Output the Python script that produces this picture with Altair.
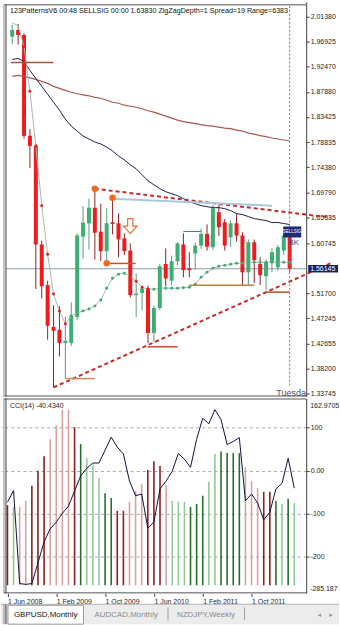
import altair as alt
import pandas as pd
import numpy as np

# ---------------- data (bar 0 = Jun 2008 ... bar 47 = May 2012, GBPUSD monthly) ----
opens = [1.978, 1.990, 1.981, 1.800, 1.782, 1.605, 1.532, 1.457, 1.452, 1.428,
         1.428, 1.475, 1.619, 1.643, 1.671, 1.628, 1.593, 1.645, 1.643, 1.616,
         1.594, 1.514, 1.518, 1.527, 1.446, 1.491, 1.570, 1.540, 1.575, 1.605,
         1.562, 1.589, 1.603, 1.624, 1.600, 1.663, 1.645, 1.618, 1.643, 1.621,
         1.555, 1.609, 1.570, 1.548, 1.573, 1.564, 1.594, 1.621]
closes = [1.990, 1.981, 1.800, 1.782, 1.605, 1.530, 1.459, 1.450, 1.428, 1.432,
          1.477, 1.621, 1.644, 1.671, 1.626, 1.593, 1.643, 1.642, 1.614, 1.593,
          1.514, 1.517, 1.526, 1.446, 1.491, 1.566, 1.544, 1.575, 1.607, 1.559,
          1.559, 1.603, 1.624, 1.601, 1.670, 1.636, 1.603, 1.643, 1.621, 1.555,
          1.609, 1.577, 1.550, 1.573, 1.591, 1.600, 1.621, 1.56145]
highs = [2.000, 2.001, 1.984, 1.812, 1.785, 1.612, 1.540, 1.496, 1.494, 1.475,
         1.501, 1.625, 1.674, 1.687, 1.705, 1.678, 1.670, 1.689, 1.661, 1.625,
         1.607, 1.553, 1.531, 1.531, 1.496, 1.570, 1.598, 1.585, 1.609, 1.625,
         1.591, 1.608, 1.634, 1.641, 1.676, 1.676, 1.651, 1.648, 1.660, 1.627,
         1.614, 1.614, 1.582, 1.578, 1.598, 1.604, 1.628, 1.630]
lows = [1.965, 1.964, 1.795, 1.742, 1.525, 1.508, 1.434, 1.348, 1.404, 1.364,
        1.423, 1.470, 1.580, 1.596, 1.578, 1.575, 1.571, 1.623, 1.582, 1.586,
        1.510, 1.475, 1.487, 1.428, 1.430, 1.487, 1.530, 1.532, 1.568, 1.546,
        1.546, 1.560, 1.597, 1.594, 1.595, 1.620, 1.594, 1.601, 1.610, 1.532,
        1.532, 1.536, 1.532, 1.523, 1.555, 1.558, 1.586, 1.556]
ma_slow = [1.9067, 1.9085, 1.9067, 1.9040, 1.9014, 1.8978, 1.8942, 1.8889, 1.8853, 1.8817,
           1.8782, 1.8755, 1.8737, 1.8719, 1.8692, 1.8675, 1.8639, 1.8603, 1.8585, 1.8550,
           1.8532, 1.8514, 1.8487, 1.8451, 1.8425, 1.8389, 1.8353, 1.8318, 1.8282, 1.8255,
           1.8237, 1.8220, 1.8202, 1.8184, 1.8175, 1.8157, 1.8139, 1.8130, 1.8103, 1.8086,
           1.8050, 1.8032, 1.8005, 1.7987, 1.7961, 1.7943, 1.7925, 1.7907]
ma_mid = [1.9371, 1.9389, 1.9335, 1.9174, 1.9032, 1.8889, 1.8746, 1.8603, 1.8461, 1.8300,
          1.8175, 1.8086, 1.7997, 1.7943, 1.7889, 1.7854, 1.7800, 1.7729, 1.7640, 1.7568,
          1.7479, 1.7408, 1.7301, 1.7193, 1.7122, 1.7051, 1.6997, 1.6961, 1.6926, 1.6872,
          1.6819, 1.6783, 1.6747, 1.6729, 1.6711, 1.6711, 1.6694, 1.6658, 1.6604, 1.6587,
          1.6551, 1.6515, 1.6497, 1.6479, 1.6444, 1.6444, 1.6426, 1.6408]
ma_fast = [2.0031, 1.9977, 1.9603, 1.8800, 1.7818, 1.6747, 1.5873, 1.5159, 1.4856, 1.4624,
           1.4766, 1.4820, 1.4856, 1.4891, 1.4945, 1.5052, 1.5266, 1.5445, 1.5516, 1.5534,
           1.5480, 1.5391, 1.5284, 1.5248, 1.5248, 1.5266, 1.5266, 1.5266, 1.5266, 1.5275,
           1.5284, 1.5337, 1.5462, 1.5552, 1.5623, 1.5658, 1.5676, 1.5694, 1.5712, 1.5712,
           1.5730, 1.5730, 1.5730, 1.5730, 1.5730, 1.5730, 1.5730, 1.5730]

cci_values = [-73, -46, -262, -264, -262, -214, -165, -135, -119, -99,
              -82, -47, -12, 6, 18, 18, 48, 78, 55, 39,
              -24, -58, -54, -133, -119, -42, -24, -1, 40, 27,
              8, 73, 122, 109, 142, 119, 61, 68, 77, -70,
              -54, -75, -114, -96, -42, -29, 29, -40.434]
hist_values = [-80, -84, -84, -70, -35, 0, 34, 73, 106, 142,
               142, 101, 62, 29, 15, -17, -52, -63, -93, -93,
               -72, -47, -31, 2, 22, 11, -33, -70, -72, -72,
               -84, -77, -58, -26, 39, 45, 41, 41, 41, 8,
               -24, -40, -49, -49, -70, -77, -65, -75]
hist_tone = ["dr", "pg", "pr", "pr", "dr", "dr", "dr", "pr", "pr", "pr",
             "pr", "dr", "dg", "pg", "pg", "pg", "dg", "dg", "dr", "dr",
             "pr", "pr", "pr", "dr", "dr", "dr", "pr", "pg", "pg", "pg",
             "dg", "dg", "dg", "pg", "pg", "dg", "dg", "dg", "dg", "pr",
             "pr", "pr", "dr", "dr", "dg", "pg", "dg", "pg"]
hist_base = -266

price_ticks = [2.01380, 1.96925, 1.92470, 1.87880, 1.83425, 1.78835, 1.74380, 1.69790,
               1.65335, 1.60745, 1.51700, 1.47245, 1.42655, 1.38200, 1.33745]
current_price = 1.56145
cci_ticks = [100, 0, -100, -200]
cci_top_label, cci_bottom_label = "162.9705", "-285.187"
date_ticks = [0, 8, 16, 24, 32, 40]
date_labels = ["1 Jun 2008", "1 Feb 2009", "1 Oct 2009", "1 Jun 2010", "1 Feb 2011", "1 Oct 2011"]

# trendlines (bar index, price)
trend_i = [7, 54, 14, 54]
trend_p = [1.3485, 1.5716, 1.7051, 1.6533]
trend_g = ["low", "low", "high", "high"]
# level segments
seg_i1 = [-0.2, 17, 15.6, 9, 23, 30, 43, 29]
seg_i2 = [7.0, 44, 20.9, 14, 28, 41, 47, 32]
seg_p1 = [1.9317, 1.6872, 1.5710, 1.3642, 1.4213, 1.5320, 1.5195, 1.6283]
seg_p2 = [1.9317, 1.6747, 1.5710, 1.3642, 1.4213, 1.5320, 1.5195, 1.6283]
seg_col = ["#a8583a", "#a9c9df", "#c8552a", "#d4895a", "#b4502c", "#c87844", "#b4502c", "#4a7a8a"]
seg_w = [1.5, 2, 1.5, 1.5, 1.5, 1.5, 1.5, 1]
# pivot points of the 1-2-3 pattern
pivot_i = [14, 17, 16]
pivot_p = [1.7051, 1.6890, 1.5712]
header = "123PatternsV6  00:48  SELLSIG  00:00  1.63830  ZigZagDepth=1  Spread=19  Range=6383"

FONT = "Liberation Sans"
n = len(opens)

df = pd.DataFrame({"i": range(n), "o": opens, "h": highs, "l": lows, "c": closes,
                   "slow": ma_slow, "mid": ma_mid, "fast": ma_fast})
bull = df["c"] >= df["o"]
df["body_col"] = np.where(bull, "#3dae75", "#ee1c1c")
df["wick_col"] = np.where(bull, "#5a9a78", "#8e2424")
fa = np.array(ma_fast)
df["dot_col"] = ["#3dae75"] + ["#dd2222" if fa[k] < fa[k - 1] else "#3dae75" for k in range(1, n)]

one = pd.DataFrame({"k": [0]})

xsc = alt.Scale(domain=[-1.059, 48.958], nice=False, zero=False)
ysc = alt.Scale(domain=[1.33209, 2.04057], nice=False, zero=False)
price_axis = alt.Axis(orient="right", values=price_ticks, format=".5f", title=None, grid=False,
                      labelFont=FONT, labelFontSize=7, labelColor="#1e1e1e", tickSize=3,
                      tickColor="#404040", domainColor="#404040", labelPadding=1,
                      labelFlush=False, labelOverlap=False)


def MX(f="i"):
    return alt.X(f"{f}:Q", scale=xsc, axis=None)


def PY(f):
    return alt.Y(f"{f}:Q", scale=ysc, axis=price_axis)


def vrule(x, y1, y2, color):
    return alt.Chart(one).mark_rule(color=color, strokeWidth=1).encode(
        x=alt.value(x), y=alt.value(y1), y2=alt.value(y2))


def hrule(y, x1, x2, color):
    return alt.Chart(one).mark_rule(color=color, strokeWidth=1).encode(
        x=alt.value(x1), x2=alt.value(x2), y=alt.value(y))


def label(text, x, y, size, color, font=FONT, align="left"):
    return alt.Chart(one).mark_text(text=text, align=align, baseline="middle", fontSize=size,
                                    color=color, font=font).encode(x=alt.value(x), y=alt.value(y))


base = alt.Chart(df)
cur = pd.DataFrame({"p": [current_price]})

cur_line = alt.Chart(cur).mark_rule(color="#8d9bab", strokeWidth=1).encode(
    y=PY("p"), x=alt.value(5), x2=alt.value(307))
wicks = base.mark_rule(strokeWidth=1).encode(
    x=MX(), y=PY("l"), y2="h:Q", color=alt.Color("wick_col:N", scale=None))
bodies = base.mark_bar(size=4).encode(
    x=MX(), y=PY("o"), y2="c:Q", color=alt.Color("body_col:N", scale=None))
slow_line = base.mark_line(color="#a65a52", strokeWidth=1.2).encode(x=MX(), y=PY("slow"))
mid_line = base.mark_line(color="#1d1d4d", strokeWidth=1).encode(x=MX(), y=PY("mid"))
fast_line = base.mark_line(color="#aab6ae", strokeWidth=1).encode(x=MX(), y=PY("fast"))
fast_dots = base.transform_filter("datum.i >= 2").mark_circle(size=9, opacity=1).encode(
    x=MX(), y=PY("fast"), color=alt.Color("dot_col:N", scale=None))

tdf = pd.DataFrame({"i": trend_i, "p": trend_p, "g": trend_g})
trend = alt.Chart(tdf).mark_line(strokeDash=[4, 3], strokeWidth=2, color="#c62a2a").encode(
    x=MX(), y=PY("p"), detail="g:N")

sdf = pd.DataFrame({"i1": seg_i1, "i2": seg_i2, "p1": seg_p1, "p2": seg_p2, "col": seg_col, "w": seg_w})
segs = alt.Chart(sdf).mark_rule().encode(
    x=MX("i1"), x2="i2:Q", y=PY("p1"), y2="p2:Q",
    color=alt.Color("col:N", scale=None), strokeWidth=alt.StrokeWidth("w:Q", scale=None))

pdf = pd.DataFrame({"i": pivot_i, "p": pivot_p})
pivots = alt.Chart(pdf).mark_circle(size=42, color="#f26a21", opacity=1).encode(x=MX(), y=PY("p"))

adf = pd.DataFrame({"i": [20], "p": [1.638]})
arrow_path = "M -0.35 -1 L 0.35 -1 L 0.35 0 L 0.9 0 L 0 1 L -0.9 0 L -0.35 0 Z"
arrow = alt.Chart(adf).mark_point(shape=arrow_path, size=225, filled=True, fill="white",
                                  stroke="#e0743a", strokeWidth=1.2, opacity=1).encode(x=MX(), y=PY("p"))

vdf = pd.DataFrame({"i": [47]})
vdot = alt.Chart(vdf).mark_rule(color="#777777", strokeDash=[2, 2], strokeWidth=1).encode(
    x=MX(), y=alt.value(4), y2=alt.value(386))

box_path = "M -1 -0.25 L 1 -0.25 L 1 0.25 L -1 0.25 Z"
cur_box = alt.Chart(cur).mark_point(shape=box_path, size=900, filled=True, color="#16206a",
                                    opacity=1).encode(y=PY("p"), x=alt.value(324))
cur_text = alt.Chart(cur).mark_text(text="1.56145", align="left", baseline="middle", fontSize=7,
                                    font=FONT, color="white").encode(y=PY("p"), x=alt.value(311))

ndf = pd.DataFrame({"i1": [45.9], "i2": [48.96], "p1": [1.6373], "p2": [1.6176]})
navy = alt.Chart(ndf).mark_rect(color="#1c2a78").encode(x=MX("i1"), x2="i2:Q", y=PY("p1"), y2="p2:Q")
navy_txt = alt.Chart(pd.DataFrame({"i": [47.4], "p": [1.6275]})).mark_text(
    text="SELLSIG", fontSize=4.5, color="white", font=FONT).encode(x=MX(), y=PY("p"))
bk_txt = alt.Chart(pd.DataFrame({"i": [47.7], "p": [1.6085]})).mark_text(
    text="BK", fontSize=7.5, color="#2a3a8a", font=FONT).encode(x=MX(), y=PY("p"))

main = alt.layer(
    cur_line, wicks, bodies, slow_line, mid_line, fast_line, fast_dots, trend, segs, pivots,
    arrow, vdot, navy, navy_txt, bk_txt, cur_box, cur_text,
    hrule(3, 3, 307, "#555555"), hrule(396.5, 3, 307, "#555555"),
    vrule(3, 3, 397, "#8a8a8a"), vrule(5, 3, 397, "#3a3a3a"),
    label(header, 9, 9, 7.2, "#111111"),
    label("Tuesda", 277, 393, 9, "#44546a"),
).properties(width=307, height=397)

# ---------------- CCI panel ----------------
tone_colors = {"dr": "#8a2020", "pr": "#d8a2a2", "dg": "#2a6e2e", "pg": "#94c79c"}
cdf = pd.DataFrame({"i": range(n), "cci": cci_values, "hist": hist_values,
                    "hcol": [tone_colors[t] for t in hist_tone]})
cdf["base"] = hist_base

csc = alt.Scale(domain=[-284.8, 167.9], nice=False, zero=False)
date_expr = ""
for t, lab in zip(date_ticks, date_labels):
    date_expr += f"datum.value == {t} ? '{lab}' : "
date_expr += "''"
date_axis = alt.Axis(orient="bottom", values=date_ticks, labelExpr=date_expr, labelAlign="left",
                     labelFont=FONT, labelFontSize=7, labelColor="#1e1e1e", tickSize=3,
                     tickColor="#404040", domain=False, grid=False, title=None, labelPadding=1,
                     labelFlush=False, labelOverlap=False)
cci_axis = alt.Axis(orient="right", values=cci_ticks,
                    labelExpr="datum.value == 0 ? '0.00' : '' + datum.value",
                    grid=True, gridDash=[3, 3], gridColor="#a8a8a8", title=None,
                    labelFont=FONT, labelFontSize=7, labelColor="#1e1e1e", tickSize=3,
                    tickColor="#404040", domainColor="#404040", labelPadding=1,
                    labelFlush=False, labelOverlap=False)


def CX(f="i"):
    return alt.X(f"{f}:Q", scale=xsc, axis=date_axis)


def CY(f):
    return alt.Y(f"{f}:Q", scale=csc, axis=cci_axis)


hist_layer = alt.Chart(cdf).mark_rule(strokeWidth=1.6).encode(
    x=CX(), y=CY("base"), y2="hist:Q", color=alt.Color("hcol:N", scale=None))
cci_line = alt.Chart(cdf).mark_line(color="#121236", strokeWidth=1).encode(x=CX(), y=CY("cci"))

tab_bg = alt.Chart(one).mark_rect(color="#ececec").encode(
    x=alt.value(0), x2=alt.value(340), y=alt.value(207), y2=alt.value(227))
tab_active = alt.Chart(one).mark_rect(fill="white", stroke="#9a9a9a", strokeWidth=1).encode(
    x=alt.value(7), x2=alt.value(83), y=alt.value(208), y2=alt.value(227))

cci_chart = alt.layer(
    hist_layer, cci_line,
    hrule(0.5, 3, 307, "#555555"), hrule(195.5, 3, 307, "#555555"),
    vrule(3, 0, 196, "#8a8a8a"), vrule(5, 0, 196, "#3a3a3a"),
    label("CCI(14) -40.4340", 9, 8, 7, "#1e1e1e"),
    label(cci_top_label, 311, 8, 7, "#1e1e1e"),
    label(cci_bottom_label, 311, 192, 7, "#1e1e1e"),
    tab_bg, hrule(207, 0, 340, "#b4b4b4"), tab_active,
    vrule(3, 207, 227, "#8a8a8a"), vrule(5, 207, 227, "#3a3a3a"),
    label("GBPUSD,Monthly", 13, 218, 8, "#111111"),
    label("AUDCAD,Monthly", 94, 218, 8, "#8a8a8a"),
    vrule(168, 210, 223, "#a0a0a0"),
    label("NZDJPY,Weekly", 177, 218, 8, "#8a8a8a"),
    vrule(245, 210, 223, "#a0a0a0"),
    label("\u25c2", 320, 218, 7, "#9a9a9a", font="DejaVu Sans", align="center"),
    label("\u25b8", 332, 218, 7, "#9a9a9a", font="DejaVu Sans", align="center"),
).properties(width=307, height=196)

chart = alt.vconcat(main, cci_chart, spacing=2, bounds="flush", padding=0,
                    background="white").configure_view(stroke=None)

chart.save("out.html", embed_options={"renderer": "svg", "actions": False})
